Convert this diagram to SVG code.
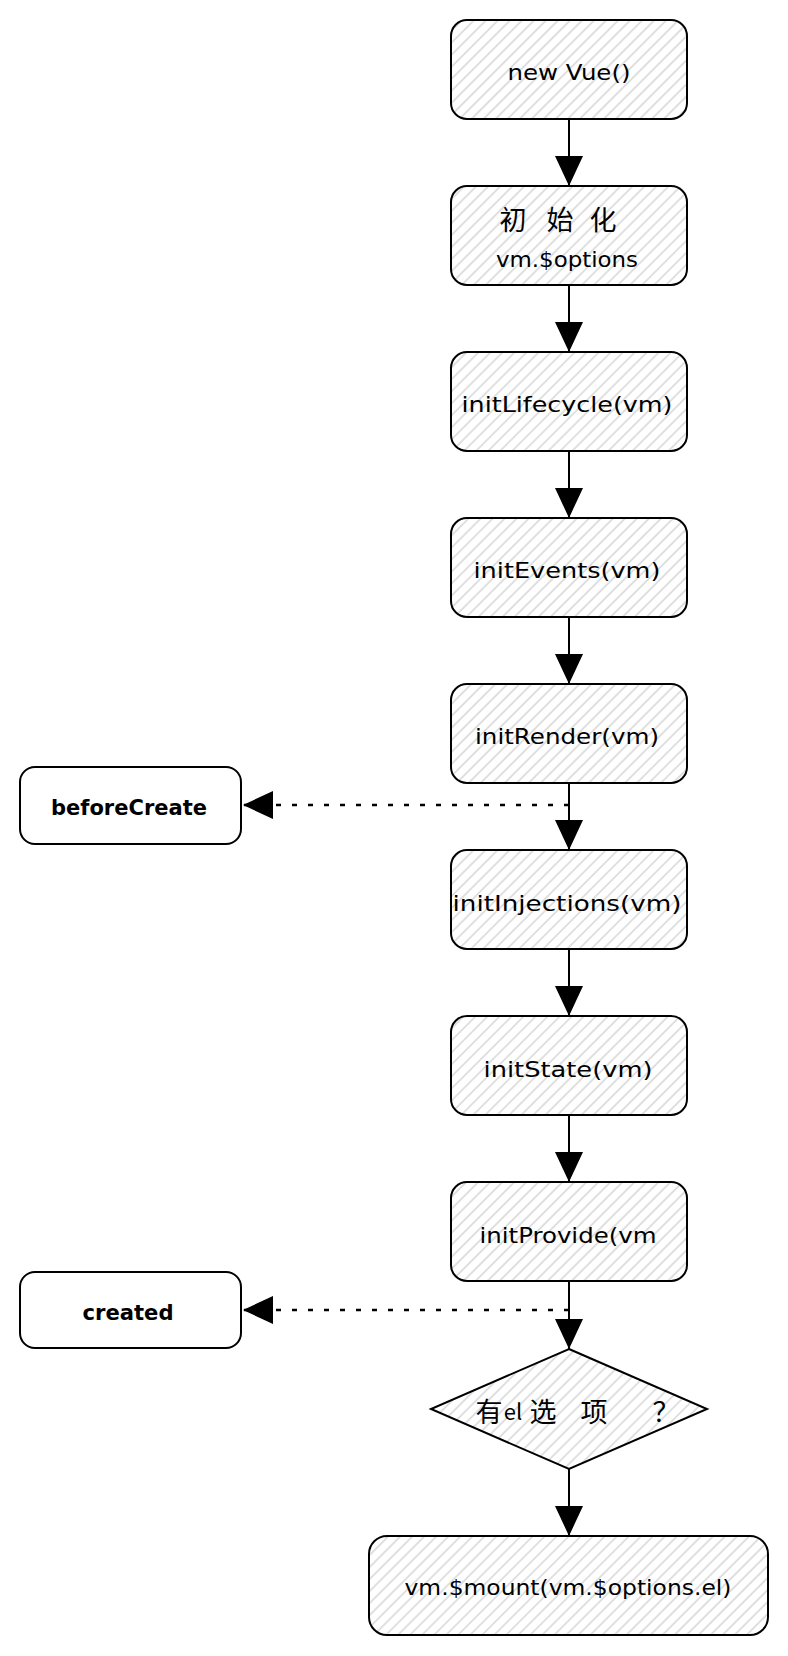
<svg xmlns="http://www.w3.org/2000/svg" width="788" height="1656" viewBox="0 0 788 1656">
  <defs>
    <pattern id="hatch" patternUnits="userSpaceOnUse" width="8.5" height="8.5" patternTransform="rotate(45)">
      <rect width="8.5" height="8.5" fill="#ffffff"/>
      <line x1="1" y1="0" x2="1" y2="8.5" stroke="#c8c8c8" stroke-width="1.1"/>
    </pattern>
    <marker id="arrow" markerUnits="userSpaceOnUse" markerWidth="30" markerHeight="28" viewBox="0 0 30 28" refX="30" refY="14" orient="auto">
      <path d="M0,0 L30,14 L0,28 Z" fill="#000"/>
    </marker>
    <style>
      .box { fill: url(#hatch); stroke: #000; stroke-width: 2; }
      .plain { fill: #fff; stroke: #000; stroke-width: 2; }
      .t { font-family: "DejaVu Sans", "Noto Sans CJK SC", sans-serif; font-size: 22px; fill: #000; text-anchor: middle; dominant-baseline: central; }
      .b { font-weight: bold; }
      .cjk { font-family: "Noto Sans CJK SC", "DejaVu Sans", sans-serif; font-size: 27px; }
      .edge { stroke: #000; stroke-width: 2; fill: none; }
      .dot { stroke: #000; stroke-width: 2.5; fill: none; stroke-dasharray: 5 11; }
    </style>
  </defs>

  <g id="connectors">
    <line class="edge" x1="569" y1="119" x2="569" y2="186" marker-end="url(#arrow)"/>
    <line class="edge" x1="569" y1="285" x2="569" y2="352" marker-end="url(#arrow)"/>
    <line class="edge" x1="569" y1="451" x2="569" y2="518" marker-end="url(#arrow)"/>
    <line class="edge" x1="569" y1="617" x2="569" y2="684" marker-end="url(#arrow)"/>
    <line class="edge" x1="569" y1="783" x2="569" y2="850" marker-end="url(#arrow)"/>
    <line class="edge" x1="569" y1="949" x2="569" y2="1016" marker-end="url(#arrow)"/>
    <line class="edge" x1="569" y1="1115" x2="569" y2="1182" marker-end="url(#arrow)"/>
    <line class="edge" x1="569" y1="1281" x2="569" y2="1349" marker-end="url(#arrow)"/>
    <line class="edge" x1="569" y1="1469" x2="569" y2="1536" marker-end="url(#arrow)"/>
    <line class="dot" x1="569" y1="805" x2="243" y2="805" marker-end="url(#arrow)"/>
    <line class="dot" x1="569" y1="1310" x2="243" y2="1310" marker-end="url(#arrow)"/>
  </g>

  <g id="node-newvue">
    <rect class="box" x="451" y="20" width="236" height="99" rx="16"/>
    <text class="t" x="569" y="72" textLength="123" lengthAdjust="spacingAndGlyphs">new Vue()</text>
  </g>
  <g id="node-init-options">
    <rect class="box" x="451" y="186" width="236" height="99" rx="16"/>
    <text class="t cjk" y="218"><tspan x="513">初</tspan><tspan x="560">始</tspan><tspan x="603">化</tspan></text>
    <text class="t" x="567" y="259" textLength="142" lengthAdjust="spacingAndGlyphs">vm.$options</text>
  </g>
  <g id="node-initLifecycle">
    <rect class="box" x="451" y="352" width="236" height="99" rx="16"/>
    <text class="t" x="567" y="404" textLength="211" lengthAdjust="spacingAndGlyphs">initLifecycle(vm)</text>
  </g>
  <g id="node-initEvents">
    <rect class="box" x="451" y="518" width="236" height="99" rx="16"/>
    <text class="t" x="567" y="570" textLength="187" lengthAdjust="spacingAndGlyphs">initEvents(vm)</text>
  </g>
  <g id="node-initRender">
    <rect class="box" x="451" y="684" width="236" height="99" rx="16"/>
    <text class="t" x="567" y="736" textLength="184" lengthAdjust="spacingAndGlyphs">initRender(vm)</text>
  </g>
  <g id="node-initInjections">
    <rect class="box" x="451" y="850" width="236" height="99" rx="16"/>
    <text class="t" x="567" y="903" textLength="229" lengthAdjust="spacingAndGlyphs">initInjections(vm)</text>
  </g>
  <g id="node-initState">
    <rect class="box" x="451" y="1016" width="236" height="99" rx="16"/>
    <text class="t" x="568" y="1069" textLength="169" lengthAdjust="spacingAndGlyphs">initState(vm)</text>
  </g>
  <g id="node-initProvide">
    <rect class="box" x="451" y="1182" width="236" height="99" rx="16"/>
    <text class="t" x="568" y="1235" textLength="177" lengthAdjust="spacingAndGlyphs">initProvide(vm</text>
  </g>
  <g id="node-has-el">
    <polygon class="box" points="569,1349 707,1409 569,1469 431,1409"/>
    <text class="t cjk" y="1410"><tspan x="489">有</tspan><tspan x="513" font-size="22">el</tspan><tspan x="543">选</tspan><tspan x="594">项</tspan><tspan x="666">？</tspan></text>
  </g>
  <g id="node-mount">
    <rect class="box" x="369" y="1536" width="399" height="99" rx="18"/>
    <text class="t" x="568" y="1587" textLength="327" lengthAdjust="spacingAndGlyphs">vm.$mount(vm.$options.el)</text>
  </g>
  <g id="node-beforeCreate">
    <rect class="plain" x="20" y="767" width="221" height="77" rx="15"/>
    <text class="t b" x="129" y="807" textLength="156" lengthAdjust="spacingAndGlyphs">beforeCreate</text>
  </g>
  <g id="node-created">
    <rect class="plain" x="20" y="1272" width="221" height="76" rx="15"/>
    <text class="t b" x="128" y="1312" textLength="91" lengthAdjust="spacingAndGlyphs">created</text>
  </g>
</svg>
